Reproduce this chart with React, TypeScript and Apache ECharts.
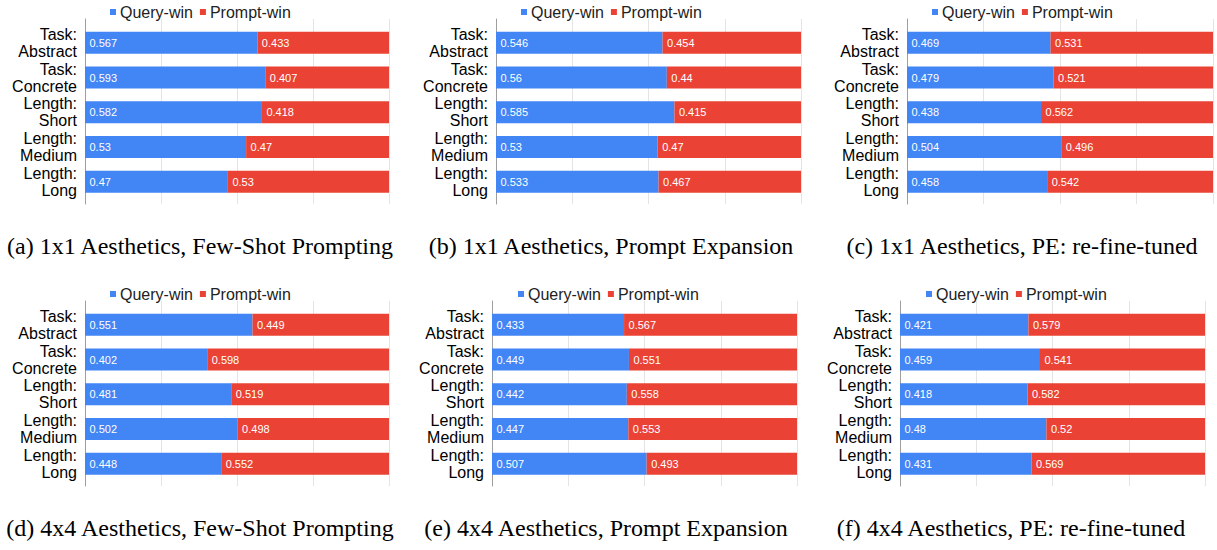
import React, { useEffect, useRef } from "react";
import * as echarts from "echarts";

const categories = [
  "Task:\nAbstract",
  "Task:\nConcrete",
  "Length:\nShort",
  "Length:\nMedium",
  "Length:\nLong",
];
const seriesNames = ["Query-win", "Prompt-win"];
const xTicks = [0, 0.25, 0.5, 0.75, 1];

const queryA = [0.567, 0.593, 0.582, 0.53, 0.47];
const promptA = [0.433, 0.407, 0.418, 0.47, 0.53];
const queryB = [0.546, 0.56, 0.585, 0.53, 0.533];
const promptB = [0.454, 0.44, 0.415, 0.47, 0.467];
const queryC = [0.469, 0.479, 0.438, 0.504, 0.458];
const promptC = [0.531, 0.521, 0.562, 0.496, 0.542];
const queryD = [0.551, 0.402, 0.481, 0.502, 0.448];
const promptD = [0.449, 0.598, 0.519, 0.498, 0.552];
const queryE = [0.433, 0.449, 0.442, 0.447, 0.507];
const promptE = [0.567, 0.551, 0.558, 0.553, 0.493];
const queryF = [0.421, 0.459, 0.418, 0.48, 0.431];
const promptF = [0.579, 0.541, 0.582, 0.52, 0.569];

const captions = [
  "(a) 1x1 Aesthetics, Few-Shot Prompting",
  "(b) 1x1 Aesthetics, Prompt Expansion",
  "(c) 1x1 Aesthetics, PE: re-fine-tuned",
  "(d) 4x4 Aesthetics, Few-Shot Prompting",
  "(e) 4x4 Aesthetics, Prompt Expansion",
  "(f) 4x4 Aesthetics, PE: re-fine-tuned",
];

const panelData = [
  [queryA, promptA],
  [queryB, promptB],
  [queryC, promptC],
  [queryD, promptD],
  [queryE, promptE],
  [queryF, promptF],
];

// layout (pixels)
const layout = [
  { left: 85, right: 389, row: 0, legendLeft: 110, capX: 200 },
  { left: 496, right: 801, row: 0, legendLeft: 521, capX: 611 },
  { left: 907, right: 1213, row: 0, legendLeft: 932, capX: 1022 },
  { left: 85, right: 389, row: 1, legendLeft: 110, capX: 200 },
  { left: 492, right: 797, row: 1, legendLeft: 518, capX: 606 },
  { left: 900, right: 1205, row: 1, legendLeft: 926, capX: 1011 },
];
const ROW_OFFSET = 282;
const BLUE = "#4285F4";
const RED = "#EA4335";
const SANS = "Liberation Sans";
const SERIF = "Liberation Serif";

export default function App() {
  const ref = useRef<HTMLDivElement>(null);
  useEffect(() => {
    if (!ref.current) return;
    const chart = echarts.init(ref.current, undefined, { renderer: "svg" });
    const grids: any[] = [];
    const xAxes: any[] = [];
    const yAxes: any[] = [];
    const series: any[] = [];
    const legends: any[] = [];
    const graphics: any[] = [];

    layout.forEach((p, i) => {
      const off = p.row * ROW_OFFSET;
      const w = p.right - p.left;
      // background grid: gridlines + left axis line
      grids.push({ left: p.left, width: w, top: 19 + off, height: 185 });
      xAxes.push({
        gridIndex: 2 * i,
        type: "value",
        min: xTicks[0],
        max: xTicks[xTicks.length - 1],
        interval: xTicks[1] - xTicks[0],
        axisLabel: { show: false },
        axisTick: { show: false },
        axisLine: { show: false },
        splitLine: { show: true, lineStyle: { color: "#e4e4e4", width: 1 } },
      });
      yAxes.push({
        gridIndex: 2 * i,
        type: "value",
        min: 0,
        max: 1,
        axisLabel: { show: false },
        axisTick: { show: false },
        splitLine: { show: false },
        axisLine: { show: true, lineStyle: { color: "#9e9e9e", width: 1 } },
      });
      // main grid
      grids.push({ left: p.left, width: w, top: 25.5 + off, height: 173.5 });
      xAxes.push({
        gridIndex: 2 * i + 1,
        type: "value",
        min: 0,
        max: 1,
        show: false,
      });
      yAxes.push({
        gridIndex: 2 * i + 1,
        type: "category",
        data: categories,
        inverse: true,
        axisLine: { show: false },
        axisTick: { show: false },
        axisLabel: {
          margin: 8,
          fontSize: 16,
          lineHeight: 17,
          color: "#000",
          fontFamily: SANS,
          align: "right",
        },
      });
      const [q, pr] = panelData[i];
      [q, pr].forEach((vals, k) => {
        series.push({
          type: "bar",
          name: seriesNames[k],
          xAxisIndex: 2 * i + 1,
          yAxisIndex: 2 * i + 1,
          stack: "s" + i,
          data: vals,
          barWidth: 22,
          itemStyle: { color: k === 0 ? BLUE : RED },
          label: {
            show: true,
            position: "insideLeft",
            distance: 4.5,
            color: "#fff",
            fontSize: 11,
            fontFamily: SANS,
          },
        });
      });
      legends.push({
        data: seriesNames,
        left: p.legendLeft,
        top: 4 + off,
        padding: 0,
        icon: "rect",
        itemWidth: 6,
        itemHeight: 6,
        itemGap: 7,
        selectedMode: false,
        textStyle: { fontSize: 16, color: "#222", fontFamily: SANS, padding: [0, 0, 0, -1] },
      });
      graphics.push({
        type: "text",
        x: p.capX,
        y: p.row === 0 ? 246 : 528,
        style: {
          text: captions[i],
          fill: "#000",
          fontSize: 24,
          fontFamily: SERIF,
          textAlign: "center",
          textVerticalAlign: "middle",
        },
      });
    });

    chart.setOption({
      animation: false,
      backgroundColor: "#fff",
      color: [BLUE, RED],
      grid: grids,
      xAxis: xAxes,
      yAxis: yAxes,
      series,
      legend: legends,
      graphic: graphics,
    });
    return () => chart.dispose();
  }, []);
  return (
    <div
      ref={ref}
      style={{ position: "absolute", left: 0, top: 0, width: 1217, height: 550 }}
    />
  );
}
